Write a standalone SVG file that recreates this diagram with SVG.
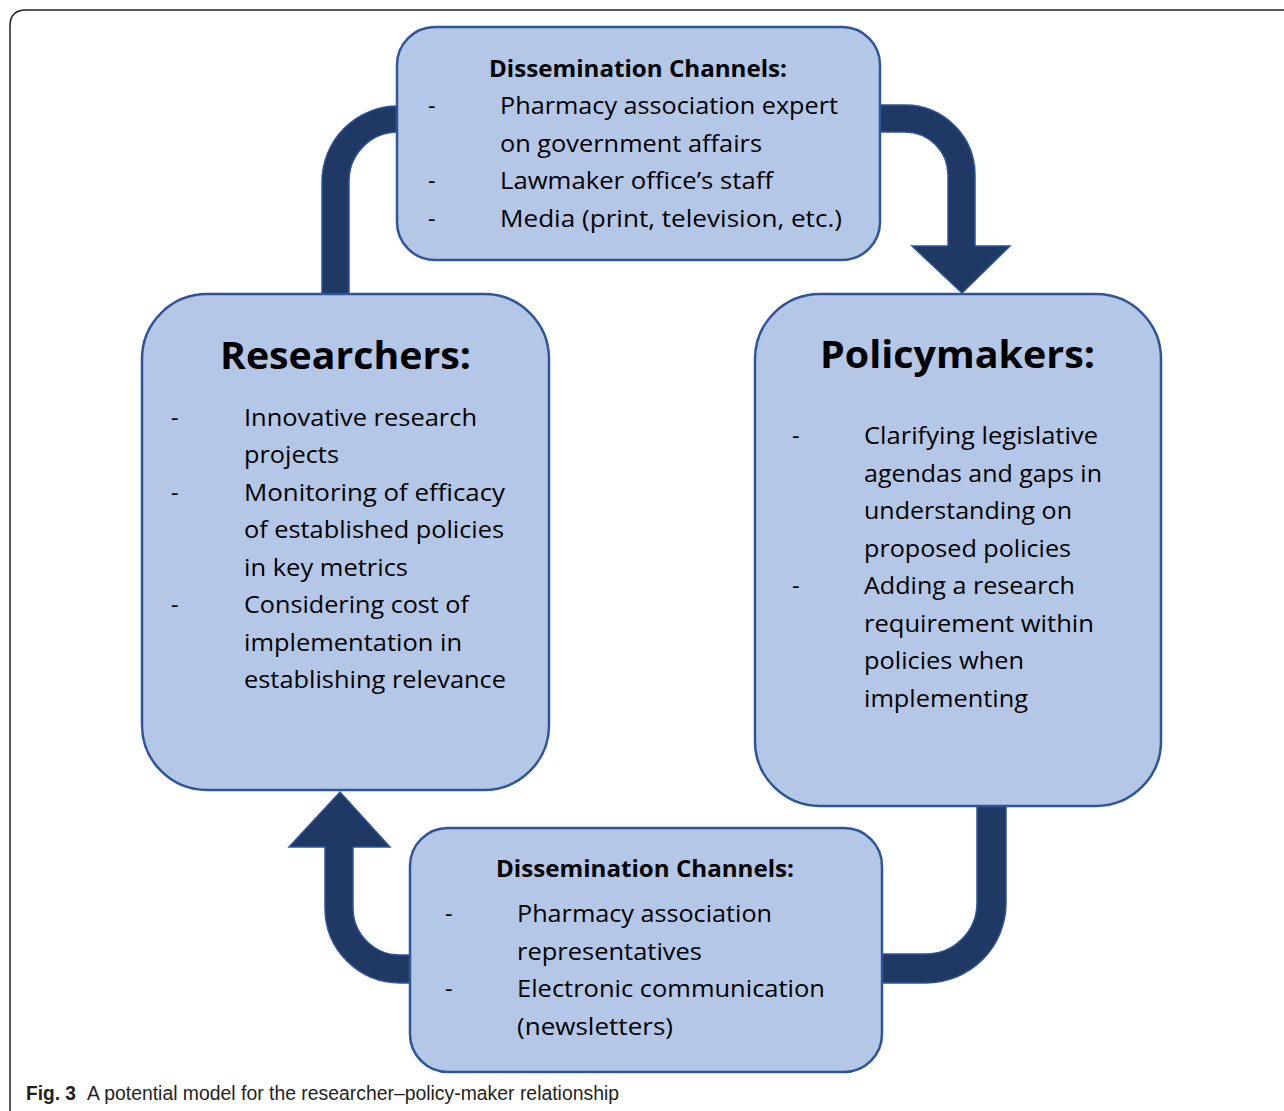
<svg xmlns="http://www.w3.org/2000/svg" width="1284" height="1111" viewBox="0 0 1284 1111">
<style>
.box{fill:#b4c7e7;stroke:#2f5597;stroke-width:2.5}
.conn{fill:#203864;stroke:#2f5597;stroke-width:1.5;stroke-linejoin:miter}
text{font-family:"Open Sans","Noto Sans","Liberation Sans",sans-serif;fill:#000}
.t{font-size:23px;font-weight:700}
.b{font-size:23.5px}
.h{font-size:38px;font-weight:700}
.cap{font-family:"Liberation Sans","Open Sans",sans-serif;font-size:19.5px;fill:#231f20}
</style>
<rect width="1284" height="1111" fill="#fff"/>
<path d="M10,1111 V26 Q10,10 26,10 H1284" fill="none" stroke="#222" stroke-width="1.5"/>
<g id="connectors">
<path class="conn" d="M322,300 V182 A76,76 0 0 1 398,106 H410 V132 H398 A49,49 0 0 0 349,181 V300 Z"/>
<path class="conn" d="M870,105 H905 A70,70 0 0 1 975,175 V246 H1010 L962,293 L912,246 H948 V175 A43,43 0 0 0 905,132 H870 Z"/>
<path class="conn" d="M420,983 H400 A75,75 0 0 1 325,908 V847 H289 L340,792 L390,847 H353 V908 A47,47 0 0 0 400,955 H420 Z"/>
<path class="conn" d="M977,800 V903 A51,51 0 0 1 926,954 H875 V983 H926 A80,80 0 0 0 1006,903 V800 Z"/>
</g>
<g id="top-channels">
<rect class="box" x="397" y="27" width="483" height="233" rx="38"/>
<text class="t" x="489" y="77" textLength="298" lengthAdjust="spacingAndGlyphs">Dissemination Channels:</text>
<text class="b" x="428" y="114">-</text>
<text class="b" x="500" y="114" textLength="338" lengthAdjust="spacingAndGlyphs">Pharmacy association expert</text>
<text class="b" x="500" y="152" textLength="262" lengthAdjust="spacingAndGlyphs">on government affairs</text>
<text class="b" x="428" y="189">-</text>
<text class="b" x="500" y="189" textLength="273" lengthAdjust="spacingAndGlyphs">Lawmaker office’s staff</text>
<text class="b" x="428" y="227">-</text>
<text class="b" x="500" y="227" textLength="342" lengthAdjust="spacingAndGlyphs">Media (print, television, etc.)</text>
</g>
<g id="researchers">
<rect class="box" x="142" y="294" width="407" height="496" rx="65"/>
<text class="h" x="220" y="369" textLength="251" lengthAdjust="spacingAndGlyphs">Researchers:</text>
<text class="b" x="171" y="426">-</text>
<text class="b" x="244" y="426" textLength="233" lengthAdjust="spacingAndGlyphs">Innovative research</text>
<text class="b" x="244" y="463" textLength="95" lengthAdjust="spacingAndGlyphs">projects</text>
<text class="b" x="171" y="501">-</text>
<text class="b" x="244" y="501" textLength="261" lengthAdjust="spacingAndGlyphs">Monitoring of efficacy</text>
<text class="b" x="244" y="538" textLength="260" lengthAdjust="spacingAndGlyphs">of established policies</text>
<text class="b" x="244" y="576" textLength="164" lengthAdjust="spacingAndGlyphs">in key metrics</text>
<text class="b" x="171" y="613">-</text>
<text class="b" x="244" y="613" textLength="225" lengthAdjust="spacingAndGlyphs">Considering cost of</text>
<text class="b" x="244" y="651" textLength="218" lengthAdjust="spacingAndGlyphs">implementation in</text>
<text class="b" x="244" y="688" textLength="262" lengthAdjust="spacingAndGlyphs">establishing relevance</text>
</g>
<g id="policymakers">
<rect class="box" x="755" y="294" width="406" height="512" rx="65"/>
<text class="h" x="820" y="368" textLength="275" lengthAdjust="spacingAndGlyphs">Policymakers:</text>
<text class="b" x="792" y="444">-</text>
<text class="b" x="864" y="444" textLength="234" lengthAdjust="spacingAndGlyphs">Clarifying legislative</text>
<text class="b" x="864" y="482" textLength="238" lengthAdjust="spacingAndGlyphs">agendas and gaps in</text>
<text class="b" x="864" y="519" textLength="208" lengthAdjust="spacingAndGlyphs">understanding on</text>
<text class="b" x="864" y="557" textLength="207" lengthAdjust="spacingAndGlyphs">proposed policies</text>
<text class="b" x="792" y="594">-</text>
<text class="b" x="864" y="594" textLength="211" lengthAdjust="spacingAndGlyphs">Adding a research</text>
<text class="b" x="864" y="632" textLength="230" lengthAdjust="spacingAndGlyphs">requirement within</text>
<text class="b" x="864" y="669" textLength="160" lengthAdjust="spacingAndGlyphs">policies when</text>
<text class="b" x="864" y="707" textLength="164" lengthAdjust="spacingAndGlyphs">implementing</text>
</g>
<g id="bottom-channels">
<rect class="box" x="410" y="828" width="472" height="244" rx="38"/>
<text class="t" x="496" y="877" textLength="298" lengthAdjust="spacingAndGlyphs">Dissemination Channels:</text>
<text class="b" x="445" y="922">-</text>
<text class="b" x="517" y="922" textLength="255" lengthAdjust="spacingAndGlyphs">Pharmacy association</text>
<text class="b" x="517" y="960" textLength="185" lengthAdjust="spacingAndGlyphs">representatives</text>
<text class="b" x="445" y="997">-</text>
<text class="b" x="517" y="997" textLength="308" lengthAdjust="spacingAndGlyphs">Electronic communication</text>
<text class="b" x="517" y="1035" textLength="156" lengthAdjust="spacingAndGlyphs">(newsletters)</text>
</g>
<text class="cap" x="26" y="1100"><tspan font-weight="700" textLength="50" lengthAdjust="spacingAndGlyphs">Fig. 3</tspan></text>
<text class="cap" x="87" y="1100" textLength="532" lengthAdjust="spacingAndGlyphs">A potential model for the researcher–policy-maker relationship</text>
</svg>
